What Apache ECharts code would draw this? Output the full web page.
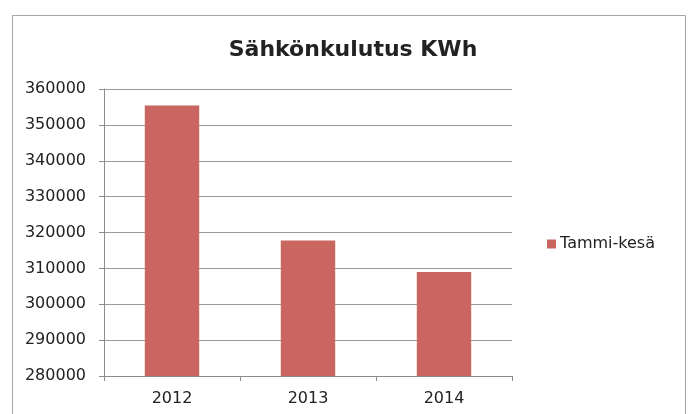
<!DOCTYPE html>
<html>
<head>
<meta charset="utf-8">
<script src="https://cdn.jsdelivr.net/npm/echarts@6/dist/echarts.min.js"></script>
<style>html,body{margin:0;padding:0;background:#fff;}#c{width:689px;height:414px;}</style>
</head>
<body>
<div id="c"></div>
<script>
const categories = ['2012', '2013', '2014'];
const seriesName = 'Tammi-kesä';
const values = [355400, 317800, 309000];
const yTicks = [280000, 290000, 300000, 310000, 320000, 330000, 340000, 350000, 360000];

const FONT = '"DejaVu Sans", "Liberation Sans", Arial, sans-serif';
const chart = echarts.init(document.getElementById('c'));
chart.setOption({
  animation: false,
  backgroundColor: '#fff',
  graphic: [{
    type: 'rect',
    shape: { x: 12.5, y: 15.5, width: 673, height: 420 },
    style: { fill: 'none', stroke: '#a6a6a6', lineWidth: 1 },
    silent: true
  }],
  title: {
    text: 'Sähkönkulutus KWh',
    left: 348, top: 34, textAlign: 'center',
    textStyle: { fontFamily: FONT, fontSize: 22, fontWeight: 'bold', color: '#222' }
  },
  legend: {
    data: [seriesName],
    left: 547, top: 236, padding: 0,
    orient: 'vertical',
    itemWidth: 9, itemHeight: 9, itemGap: 4,
    icon: 'rect',
    textStyle: { fontFamily: FONT, fontSize: 16, color: '#222', padding: [0, 0, 0, -1] }
  },
  grid: { left: 104, right: 177, top: 89, bottom: 38, containLabel: false },
  xAxis: {
    type: 'category',
    data: categories,
    axisLine: { lineStyle: { color: '#8c8c8c', width: 1 } },
    axisTick: { show: true, alignWithLabel: false, length: 5, lineStyle: { color: '#8c8c8c' } },
    axisLabel: { fontFamily: FONT, fontSize: 16, color: '#222', margin: 15 }
  },
  yAxis: {
    type: 'value',
    min: yTicks[0], max: yTicks[yTicks.length - 1], interval: 10000,
    axisLine: { show: true, lineStyle: { color: '#8c8c8c', width: 1 } },
    axisTick: { show: true, length: 5, lineStyle: { color: '#8c8c8c' } },
    splitLine: { show: true, lineStyle: { color: '#9a9a9a', width: 1 } },
    axisLabel: { fontFamily: FONT, fontSize: 16, color: '#222', margin: 18, formatter: v => String(v) }
  },
  series: [{
    name: seriesName,
    type: 'bar',
    data: values,
    barWidth: '40%',
    itemStyle: { color: '#c9665f' }
  }]
});
</script>
</body>
</html>
